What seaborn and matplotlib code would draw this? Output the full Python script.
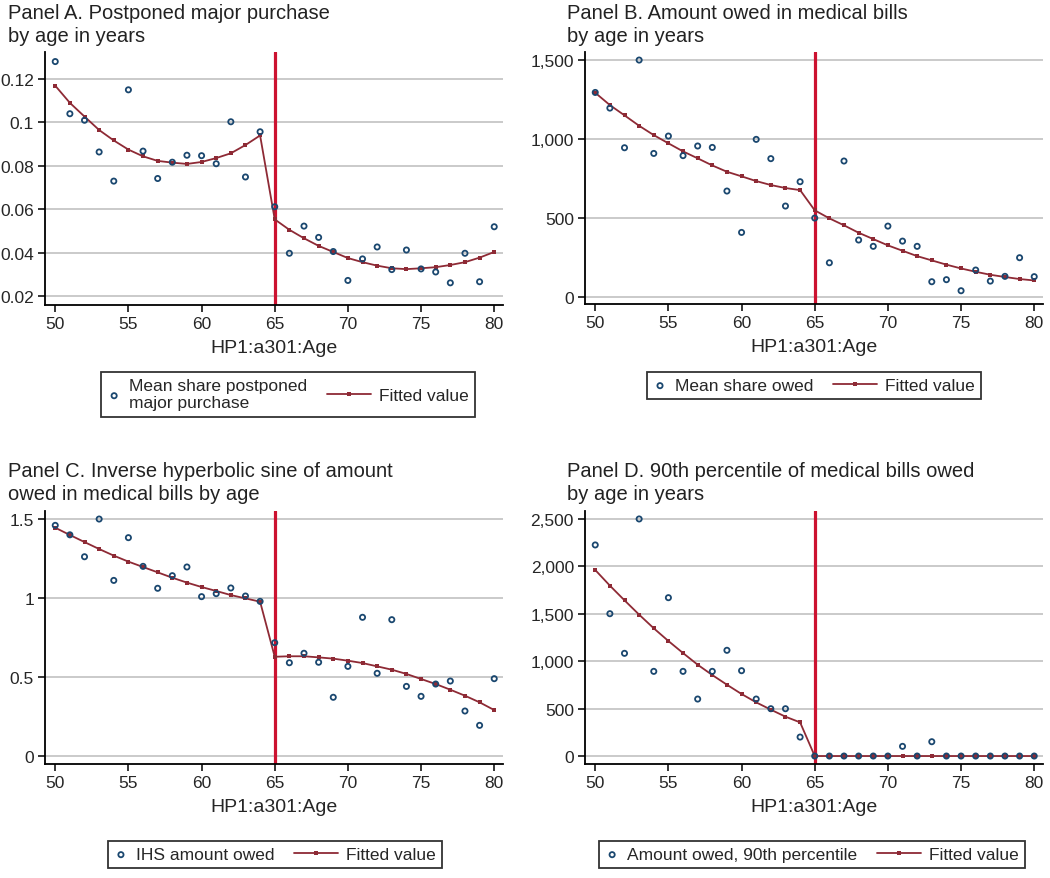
import numpy as np
import matplotlib
matplotlib.use('Agg')
import matplotlib.pyplot as plt
from matplotlib.legend_handler import HandlerLine2D
import seaborn as sns
import pandas as pd

ages = list(range(50, 81))

# Panel A: postponed major purchase
a_mean = [0.128, 0.104, 0.101, 0.0864, 0.073, 0.115, 0.0868, 0.0742, 0.0817, 0.0849,
          0.0847, 0.081, 0.1003, 0.0749, 0.0957, 0.0612, 0.0398, 0.0523, 0.0471, 0.0406,
          0.0273, 0.0372, 0.0427, 0.0323, 0.0413, 0.0326, 0.0312, 0.0262, 0.0398, 0.0267,
          0.052]
a_fit = [0.1169, 0.109, 0.1027, 0.0965, 0.0917, 0.0875, 0.0844, 0.0823, 0.0815, 0.0809,
         0.0818, 0.0836, 0.0858, 0.0896, 0.094, 0.0554, 0.0506, 0.0467, 0.0432, 0.0404,
         0.0376, 0.0357, 0.0341, 0.0329, 0.0325, 0.0329, 0.0334, 0.0344, 0.0357, 0.0378,
         0.0404]

# Panel B: amount owed in medical bills
b_mean = [1295, 1196, 945, 1500, 909, 1019, 895, 956, 947, 671,
          409, 998, 876, 576, 730, 500, 217, 861, 361, 321,
          449, 354, 321, 97, 110, 40, 171, 101, 131, 249,
          129]
b_fit = [1293, 1215, 1150, 1084, 1025, 973, 922, 878, 833, 793,
         764, 734, 709, 690, 677, 549, 498, 454, 407, 367,
         327, 293, 259, 232, 205, 181, 160, 141, 127, 114,
         105]

# Panel C: inverse hyperbolic sine of amount owed
c_mean = [1.46, 1.40, 1.261, 1.50, 1.111, 1.382, 1.20, 1.061, 1.141, 1.196,
          1.008, 1.027, 1.063, 1.012, 0.978, 0.716, 0.589, 0.649, 0.592, 0.37,
          0.566, 0.877, 0.522, 0.862, 0.439, 0.376, 0.454, 0.473, 0.283, 0.192,
          0.488]
c_fit = [1.445, 1.399, 1.354, 1.31, 1.268, 1.23, 1.196, 1.162, 1.128, 1.097,
         1.069, 1.044, 1.018, 0.997, 0.976, 0.627, 0.63, 0.63, 0.623, 0.615,
         0.602, 0.587, 0.566, 0.545, 0.518, 0.486, 0.454, 0.418, 0.38, 0.338,
         0.289]

# Panel D: 90th percentile of medical bills owed
d_mean = [2226, 1501, 1083, 2500, 893, 1670, 893, 601, 893, 1115,
          900, 601, 499, 499, 200, 0, 0, 0, 0, 0,
          0, 102, 0, 151, 0, 0, 0, 0, 0, 0,
          0]
d_fit = [1962, 1797, 1642, 1491, 1347, 1213, 1086, 963, 854, 752,
         654, 566, 489, 415, 355, 0, 0, 0, 0, 0,
         0, 0, 0, 0, 0, 0, 0, 0, 0, 0,
         0]

titles = ['Panel A. Postponed major purchase\nby age in years',
          'Panel B. Amount owed in medical bills\nby age in years',
          'Panel C. Inverse hyperbolic sine of amount\nowed in medical bills by age',
          'Panel D. 90th percentile of medical bills owed\nby age in years']
mean_labels = ['Mean share postponed\nmajor purchase', 'Mean share owed',
               'IHS amount owed', 'Amount owed, 90th percentile']
x_ticks = [50, 55, 60, 65, 70, 75, 80]
y_ticks = [[0.02, 0.04, 0.06, 0.08, 0.1, 0.12], [0, 500, 1000, 1500],
           [0, 0.5, 1, 1.5], [0, 500, 1000, 1500, 2000, 2500]]
y_ticklabels = [['0.02', '0.04', '0.06', '0.08', '0.1', '0.12'],
                ['0', '500', '1,000', '1,500'],
                ['0', '0.5', '1', '1.5'],
                ['0', '500', '1,000', '1,500', '2,000', '2,500']]
y_lims = [(0.016, 0.1324), (-44, 1551), (-0.053, 1.551), (-84, 2584)]
cutoff = 65

sns.set_style('white')
plt.rcParams['font.family'] = ['Liberation Sans', 'DejaVu Sans']

NAVY = '#1a476f'
MAROON = '#8e2a35'
RED = '#cc1230'


class WideLine(HandlerLine2D):
    # legend line that reaches further left than the handle box
    def __init__(self, extra, **kw):
        super().__init__(**kw)
        self.extra = extra

    def create_artists(self, legend, orig_handle, xdescent, ydescent, width,
                       height, fontsize, trans):
        return super().create_artists(legend, orig_handle, xdescent + self.extra,
                                      ydescent, width + self.extra, height,
                                      fontsize, trans)


W, H = 1050, 879
fig = plt.figure(figsize=(W / 100, H / 100), dpi=100)

# axes boxes in pixels: left, top, right, bottom
boxes = [(45, 53, 503, 306), (585, 53, 1043, 305), (45, 512, 503, 765), (585, 512, 1043, 765)]
title_pos = [(8, 4), (567, 4), (8, 462), (567, 462)]
legend_top = [373, 373, 842, 842]
legend_cx = [288, 814, 275, 812]

series = [(a_mean, a_fit), (b_mean, b_fit), (c_mean, c_fit), (d_mean, d_fit)]

for i, (mean_vals, fit_vals) in enumerate(series):
    l, t, r, b = boxes[i]
    ax = fig.add_axes([l / W, 1 - b / H, (r - l) / W, (b - t) / H])
    df = pd.DataFrame({'age': ages, 'mean': mean_vals, 'fit': fit_vals})

    ax.axvline(cutoff, color=RED, lw=2.3, zorder=2)
    sns.scatterplot(data=df, x='age', y='mean', ax=ax, marker='o', s=14,
                    facecolor='none', edgecolor=NAVY, linewidth=1.3,
                    label=mean_labels[i], zorder=4)
    sns.lineplot(data=df, x='age', y='fit', ax=ax, color=MAROON, lw=1.3,
                 marker='s', markersize=2.8, markeredgewidth=0,
                 label='Fitted value', zorder=3)

    ax.set_xlim(49.3, 80.6)
    ax.set_ylim(*y_lims[i])
    ax.set_xticks(x_ticks)
    ax.set_xticklabels([str(v) for v in x_ticks], fontsize=12.5)
    ax.set_yticks(y_ticks[i])
    ax.set_yticklabels(y_ticklabels[i], fontsize=12.5)
    ax.tick_params(axis='both', direction='out', length=5, width=1.1, color='black',
                   pad=3, left=True, bottom=True)
    ax.yaxis.grid(True, color='#c6c6c6', lw=1.3, zorder=0)
    ax.xaxis.grid(False)
    ax.set_axisbelow(True)
    sns.despine(ax=ax)
    for side in ['left', 'bottom']:
        ax.spines[side].set_color('black')
        ax.spines[side].set_linewidth(1.3)
    ax.set_xlabel('HP1:a301:Age', fontsize=14, labelpad=6)
    ax.set_ylabel('')

    handles, labels = ax.get_legend_handles_labels()
    leg = ax.legend(handles, labels, ncol=2, loc='upper center',
                    bbox_to_anchor=(legend_cx[i] / W, 1 - legend_top[i] / H),
                    bbox_transform=fig.transFigure, fontsize=12.5, frameon=True,
                    fancybox=False, edgecolor='black', borderpad=0.35,
                    borderaxespad=0, columnspacing=2.9, handlelength=0.8,
                    handletextpad=0.45, markerscale=1.0, labelspacing=0.2,
                    handler_map={handles[1]: WideLine(22)})
    leg.get_frame().set_linewidth(1.3)
    leg.set_zorder(10)

    tx, ty = title_pos[i]
    fig.text(tx / W, 1 - ty / H, titles[i], ha='left', va='top', fontsize=14.5,
             linespacing=1.25, color='#222222')

fig.savefig('out.png', dpi=100, facecolor='white')
